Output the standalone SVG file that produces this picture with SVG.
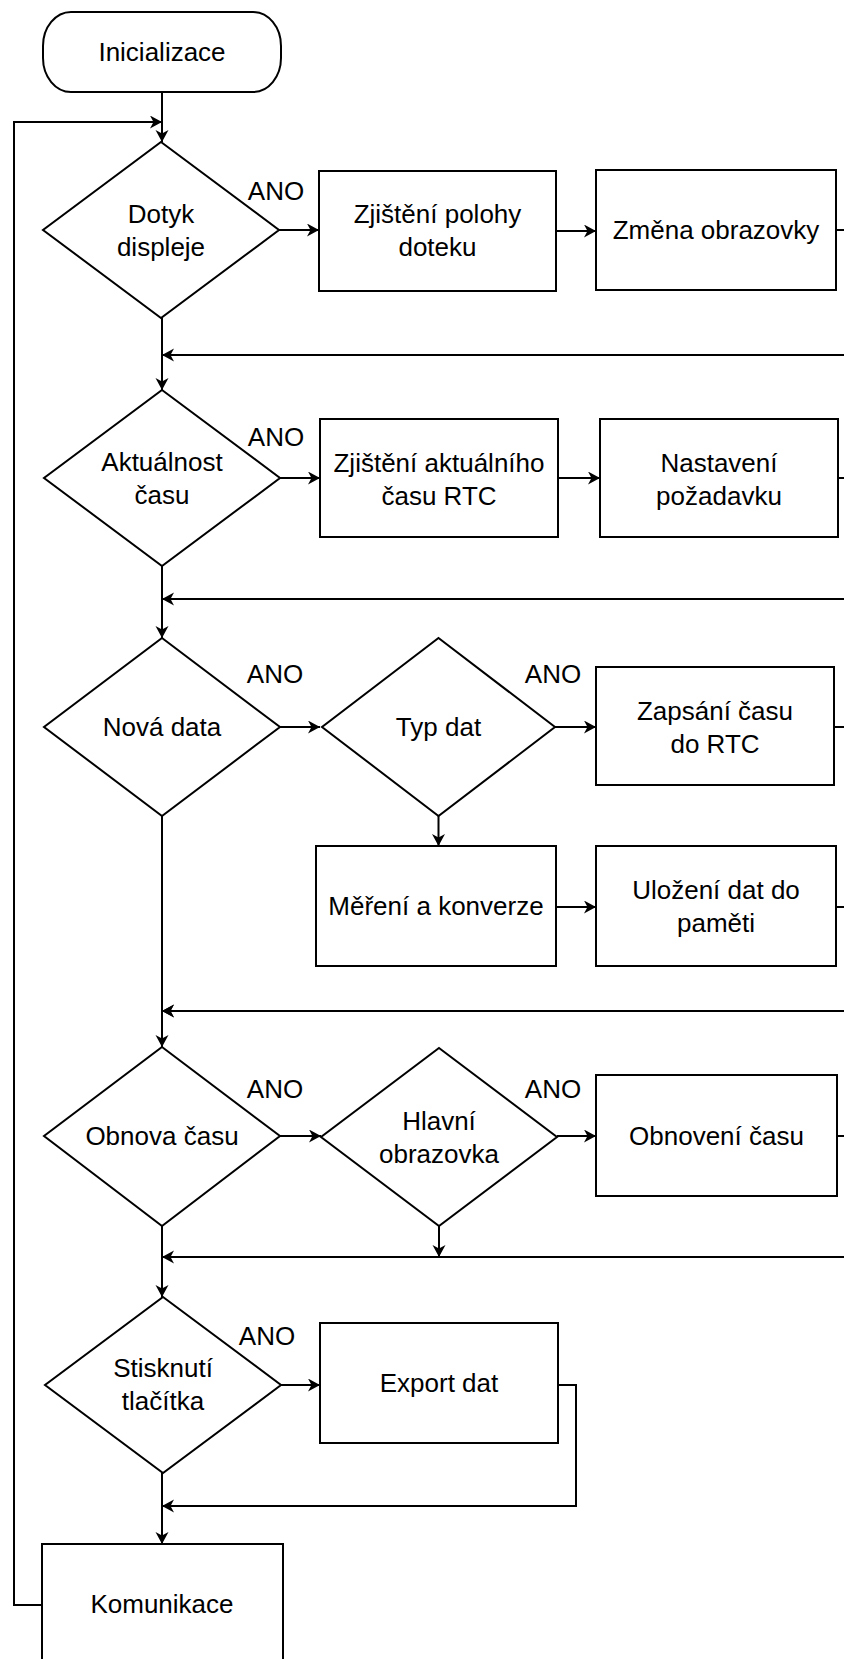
<svg xmlns="http://www.w3.org/2000/svg" width="844" height="1659" viewBox="0 0 844 1659">
<style>
.n{fill:#fff;stroke:#000;stroke-width:2}
.t{font-family:"Liberation Sans",Arial,sans-serif;font-size:26px;fill:#000;text-anchor:middle}
.c{fill:none;stroke:#000;stroke-width:2}
.a{marker-end:url(#arr)}
</style>
<defs>
<marker id="arr" markerUnits="userSpaceOnUse" markerWidth="14" markerHeight="14" refX="12" refY="6.5" orient="auto">
<path d="M0,0 L12,6.5 L0,13 L3.5,6.5 z" fill="#000"/>
</marker>
</defs>
<rect width="844" height="1659" fill="#fff"/>
<g id="connectors">
<path class="c a" d="M162,92 V142"/>
<path class="c a" d="M42,1605 H14 V122 H162"/>
<path class="c a" d="M279,230 H319"/>
<path class="c a" d="M556,231 H596"/>
<path class="c a" d="M836,230 H860 V355 H162"/>
<path class="c a" d="M162,318 V390"/>
<path class="c a" d="M280,478 H320"/>
<path class="c a" d="M558,478 H600"/>
<path class="c a" d="M838,478 H860 V599 H162"/>
<path class="c a" d="M162,566 V638"/>
<path class="c a" d="M280,727 H320"/>
<path class="c a" d="M555,727 H596"/>
<path class="c a" d="M834,727 H860 V1011 H162"/>
<path class="c a" d="M438.5,816 V846"/>
<path class="c a" d="M556,907 H596"/>
<path class="c a" d="M836,907 H860 V1011 H162"/>
<path class="c a" d="M162,816 V1047"/>
<path class="c a" d="M280,1136 H321"/>
<path class="c a" d="M557,1136 H596"/>
<path class="c a" d="M837,1136 H860 V1257 H162"/>
<path class="c a" d="M439,1226 V1257"/>
<path class="c a" d="M162,1226 V1297"/>
<path class="c a" d="M281,1385 H320"/>
<path class="c a" d="M558,1385 H576 V1506 H162"/>
<path class="c a" d="M162,1473 V1544"/>
<text class="t" x="276" y="200">ANO</text>
<text class="t" x="276" y="446">ANO</text>
<text class="t" x="275" y="683">ANO</text>
<text class="t" x="553" y="683">ANO</text>
<text class="t" x="275" y="1098">ANO</text>
<text class="t" x="553" y="1098">ANO</text>
<text class="t" x="267" y="1345">ANO</text>
</g>
<g id="n_init"><rect class="n" x="43" y="12" width="238" height="80" rx="28" ry="34"/><text class="t" x="162" y="61">Inicializace</text></g>
<g id="n_dotyk"><polygon class="n" points="161,142 279,230 161,318 43,230"/><text class="t" x="161" y="223">Dotyk</text><text class="t" x="161" y="256">displeje</text></g>
<g id="n_poloha"><rect class="n" x="319" y="171" width="237" height="120"/><text class="t" x="437.5" y="223">Zjištění polohy</text><text class="t" x="437.5" y="256">doteku</text></g>
<g id="n_zmena"><rect class="n" x="596" y="170" width="240" height="120"/><text class="t" x="716" y="239">Změna obrazovky</text></g>
<g id="n_aktual"><polygon class="n" points="162,390 280,478 162,566 44,478"/><text class="t" x="162" y="471">Aktuálnost</text><text class="t" x="162" y="504">času</text></g>
<g id="n_rtc"><rect class="n" x="320" y="419" width="238" height="118"/><text class="t" x="439" y="472">Zjištění aktuálního</text><text class="t" x="439" y="505">času RTC</text></g>
<g id="n_nast"><rect class="n" x="600" y="419" width="238" height="118"/><text class="t" x="719" y="472">Nastavení</text><text class="t" x="719" y="505">požadavku</text></g>
<g id="n_nova"><polygon class="n" points="162,638 280,727 162,816 44,727"/><text class="t" x="162" y="736">Nová data</text></g>
<g id="n_typ"><polygon class="n" points="438.5,638 555,727 438.5,816 322,727"/><text class="t" x="438.5" y="736">Typ dat</text></g>
<g id="n_zapis"><rect class="n" x="596" y="667" width="238" height="118"/><text class="t" x="715" y="720">Zapsání času</text><text class="t" x="715" y="753">do RTC</text></g>
<g id="n_mereni"><rect class="n" x="316" y="846" width="240" height="120"/><text class="t" x="436" y="915">Měření a konverze</text></g>
<g id="n_ulozeni"><rect class="n" x="596" y="846" width="240" height="120"/><text class="t" x="716" y="899">Uložení dat do</text><text class="t" x="716" y="932">paměti</text></g>
<g id="n_obnova"><polygon class="n" points="162,1047 280,1136 162,1226 44,1136"/><text class="t" x="162" y="1145">Obnova času</text></g>
<g id="n_hlavni"><polygon class="n" points="439,1048 557,1137 439,1226 321,1137"/><text class="t" x="439" y="1130">Hlavní</text><text class="t" x="439" y="1163">obrazovka</text></g>
<g id="n_obnoveni"><rect class="n" x="596" y="1075" width="241" height="121"/><text class="t" x="716.5" y="1145">Obnovení času</text></g>
<g id="n_tlacitko"><polygon class="n" points="163,1297 281,1385 163,1473 45,1385"/><text class="t" x="163" y="1377">Stisknutí</text><text class="t" x="163" y="1410">tlačítka</text></g>
<g id="n_export"><rect class="n" x="320" y="1323" width="238" height="120"/><text class="t" x="439" y="1392">Export dat</text></g>
<g id="n_komunikace"><rect class="n" x="42" y="1544" width="241" height="122"/><text class="t" x="162" y="1613">Komunikace</text></g>
</svg>
